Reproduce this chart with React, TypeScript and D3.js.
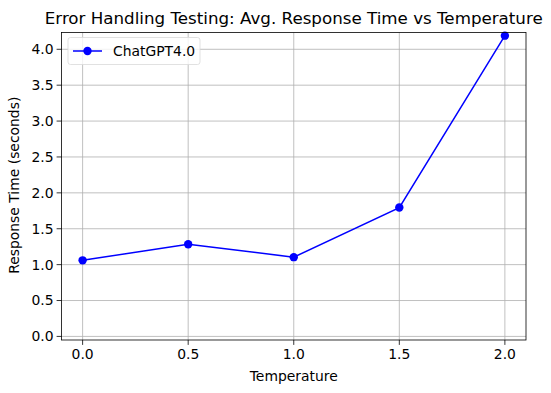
import React from "react";
import * as d3 from "d3";

const temperatures = [0.0, 0.5, 1.0, 1.5, 2.0];
const responseTimes = [1.06, 1.285, 1.104, 1.795, 4.19];
const xTicks = [0.0, 0.5, 1.0, 1.5, 2.0];
const yTicks = [0.0, 0.5, 1.0, 1.5, 2.0, 2.5, 3.0, 3.5, 4.0];
const seriesName = "ChatGPT4.0";

const width = 551;
const height = 393;
const margin = { top: 32.5, right: 25, bottom: 53, left: 61.5 };
const font = "DejaVu Sans, sans-serif";

export default function App() {
  const innerW = width - margin.left - margin.right;
  const innerH = height - margin.top - margin.bottom;

  const x = d3.scaleLinear().domain([-0.1, 2.1]).range([0, innerW]);
  const y = d3.scaleLinear().domain([-0.05, 4.234]).range([innerH, 0]);

  const line = d3
    .line<number>()
    .x((_, i) => x(temperatures[i]))
    .y((d) => y(d));

  return (
    <svg
      width={width}
      height={height}
      style={{ position: "absolute", left: 0, top: 0, background: "#fff" }}
      fontFamily={font}
    >
      <text x={margin.left + innerW / 2} y={24} textAnchor="middle" fontSize={16.7} fill="#000">
        Error Handling Testing: Avg. Response Time vs Temperature
      </text>
      <g transform={`translate(${margin.left},${margin.top})`}>
        {xTicks.map((t) => (
          <line key={"gx" + t} x1={x(t)} x2={x(t)} y1={0} y2={innerH} stroke="#b0b0b0" strokeWidth={0.8} />
        ))}
        {yTicks.map((t) => (
          <line key={"gy" + t} x1={0} x2={innerW} y1={y(t)} y2={y(t)} stroke="#b0b0b0" strokeWidth={0.8} />
        ))}
        <path d={line(responseTimes) || ""} fill="none" stroke="#0000ff" strokeWidth={1.5} />
        {responseTimes.map((d, i) => (
          <circle key={i} cx={x(temperatures[i])} cy={y(d)} r={4.2} fill="#0000ff" />
        ))}
        <rect x={0} y={0} width={innerW} height={innerH} fill="none" stroke="#000" strokeWidth={0.8} />
        {xTicks.map((t) => (
          <g key={"tx" + t} transform={`translate(${x(t)},${innerH})`}>
            <line y2={4.9} stroke="#000" strokeWidth={0.8} />
            <text y={19} textAnchor="middle" fontSize={13.9} fill="#000">
              {d3.format(".1f")(t)}
            </text>
          </g>
        ))}
        {yTicks.map((t) => (
          <g key={"ty" + t} transform={`translate(0,${y(t)})`}>
            <line x2={-4.9} stroke="#000" strokeWidth={0.8} />
            <text x={-8} dy="0.35em" textAnchor="end" fontSize={13.9} fill="#000">
              {d3.format(".1f")(t)}
            </text>
          </g>
        ))}
        <text x={innerW / 2} y={innerH + 41} textAnchor="middle" fontSize={13.9} fill="#000">
          Temperature
        </text>
        <text
          transform={`translate(${-42.5},${innerH / 2 - 1}) rotate(-90)`}
          textAnchor="middle"
          fontSize={13.9}
          fill="#000"
        >
          Response Time (seconds)
        </text>
        <g transform="translate(6.5,5)">
          <rect width={132} height={27} rx={2.5} fill="#fff" fillOpacity={0.8} stroke="#d9d9d9" strokeWidth={0.8} />
          <line x1={5} x2={34} y1={13.5} y2={13.5} stroke="#0000ff" strokeWidth={1.5} />
          <circle cx={19.5} cy={13.5} r={4.2} fill="#0000ff" />
          <text x={45} y={13.5} dy="0.35em" fontSize={13.9} fill="#000">
            {seriesName}
          </text>
        </g>
      </g>
    </svg>
  );
}
